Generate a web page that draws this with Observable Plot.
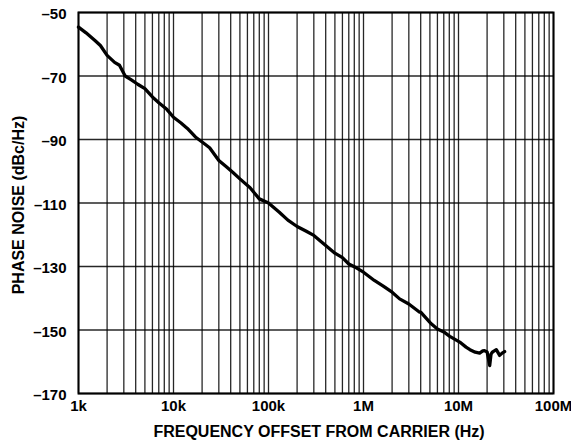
<!DOCTYPE html>
<html><head><meta charset="utf-8">
<script src="https://cdn.jsdelivr.net/npm/d3@7"></script>
<script src="https://cdn.jsdelivr.net/npm/@observablehq/plot@0.6"></script>
<style>
body{margin:0;background:#fff;}
svg{font-family:"Liberation Sans",Arial,Helvetica,sans-serif;}
</style></head>
<body><div id="chart"></div>
<script>
const freq = [1000,1200,1500,1700,2000,2400,2700,3100,3600,4200,5000,6000,7000,8500,10000,12000,14000,17000,20000,24000,30000,36000,42000,50000,64000,80000,100000,130000,160000,200000,250000,300000,400000,500000,600000,700000,850000,1000000,1300000,1600000,2000000,2400000,3000000,3900000,4000000,5000000,5200000,6000000,7000000,8100000,10300000,12000000,13200000,15000000,16700000,18000000,18800000,20000000,21300000,22000000,22700000,25000000,27100000,29000000,30600000];
const noise = [-54.6,-56.4,-58.9,-60.4,-63.5,-65.7,-66.6,-70.0,-71.2,-72.6,-74.0,-76.6,-78.4,-80.5,-83.0,-84.8,-86.5,-89.2,-90.8,-92.6,-96.6,-98.6,-100.3,-102.4,-105.2,-108.7,-110.0,-112.9,-115.4,-117.4,-118.9,-120.2,-123.4,-125.8,-127.2,-129.2,-130.5,-131.8,-134.4,-136.1,-138.1,-140.2,-141.8,-144.4,-144.4,-147.6,-148.1,-149.7,-150.6,-152.0,-153.8,-155.4,-156.2,-157.0,-157.3,-156.6,-156.5,-156.9,-161.2,-157.6,-157.0,-156.2,-158.0,-157.2,-156.8];
const xTicks = [1e3,1e4,1e5,1e6,1e7,1e8];
const xTickLabels = ["1k","10k","100k","1M","10M","100M"];
const yTicks = [-50,-70,-90,-110,-130,-150,-170];
const xTitle = "FREQUENCY OFFSET FROM CARRIER (Hz)";
const yTitle = "PHASE NOISE (dBc/Hz)";

const data = freq.map((f,i)=>({f, v: noise[i]}));
const minor = [];
for (let d=1e3; d<1e8; d*=10) for (let k=2;k<=9;k++) minor.push(d*k);

const plot = Plot.plot({
  width: 571, height: 446,
  marginLeft: 78, marginRight: 18, marginTop: 12, marginBottom: 53,
  style: {fontFamily: '"Liberation Sans",Arial,sans-serif', fontWeight: "bold", fontSize: "15px", color: "#000", background: "#fff"},
  x: {type: "log", domain: [1e3, 1e8], label: null},
  y: {domain: [-170, -50], label: null},
  marks: [
    Plot.ruleX(minor, {stroke: "#000", strokeWidth: 1.3, strokeOpacity: 0.85}),
    Plot.ruleX(xTicks, {stroke: "#000", strokeWidth: 1.3, strokeOpacity: 0.85}),
    Plot.ruleY(yTicks, {stroke: "#000", strokeWidth: 1.3, strokeOpacity: 0.85}),
    Plot.frame({stroke: "#000", strokeWidth: 2}),
    Plot.axisX(xTicks, {tickSize: 0, tickPadding: 7, tickFormat: d => xTickLabels[xTicks.indexOf(d)], fontSize: 15, fontWeight: "bold", label: null}),
    Plot.axisY(yTicks, {tickSize: 0, tickPadding: 12, dy: 2, tickFormat: d => String(d).replace("-", "\u2013"), fontSize: 15, fontWeight: "bold", label: null}),
    Plot.line(data, {x: "f", y: "v", stroke: "#000", strokeWidth: 3.3, strokeLinejoin: "round", curve: "linear"}),
    Plot.text([xTitle], {frameAnchor: "bottom", dy: 43, dx: 3, fontSize: 16, fontWeight: "bold", fill: "#000"}),
    Plot.text([yTitle], {frameAnchor: "left", textAnchor: "middle", dx: -60, dy: 2, rotate: -90, fontSize: 16, fontWeight: "bold", fill: "#000"})
  ]
});
document.getElementById("chart").appendChild(plot);
</script></body></html>
